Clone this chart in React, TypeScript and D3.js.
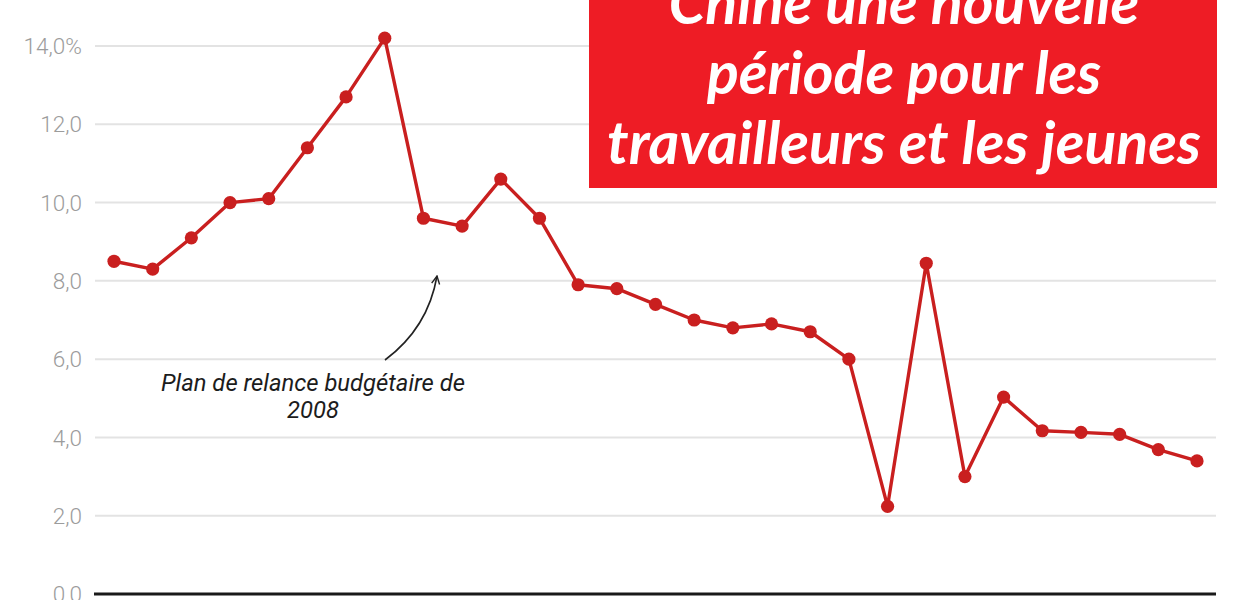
import * as d3 from "d3";

const YEARS = d3.range(2000, 2029);
const GROWTH = [
  8.5, 8.3, 9.1, 10.0, 10.1, 11.4, 12.7, 14.2, 9.6, 9.4, 10.6, 9.6, 7.9, 7.8,
  7.4, 7.0, 6.8, 6.9, 6.7, 6.0, 2.24, 8.45, 3.0, 5.03, 4.17, 4.13, 4.08, 3.69,
  3.4,
];
const Y_TICKS = [0, 2, 4, 6, 8, 10, 12, 14];
const TITLE_LINES = [
  "Chine une nouvelle",
  "période pour les",
  "travailleurs et les jeunes",
];
const NOTE_LINES = ["Plan de relance budgétaire de", "2008"];

const W = 1240;
const H = 600;
const RED = "#c91f1f";

export default function App() {
  const x = d3.scaleLinear().domain([2000, 2028]).range([114, 1197]);
  const y = d3.scaleLinear().domain([0, 14]).range([594, 46]);
  const points = YEARS.map((yr, i) => ({ yr, v: GROWTH[i] }));
  const line = d3
    .line<{ yr: number; v: number }>()
    .x((d) => x(d.yr))
    .y((d) => y(d.v));

  const fmt = (t: number) => t.toFixed(1).replace(".", ",");

  return (
    <div style={{ position: "fixed", left: 0, top: 0, width: W, height: H, background: "#fff" }}>
      <svg width={W} height={H} style={{ display: "block", fontFamily: "Roboto, sans-serif" }}>
        <defs>
          <marker
            id="arr"
            viewBox="0 0 10 10"
            refX="9"
            refY="5"
            markerWidth="10"
            markerHeight="10"
            orient="auto"
            markerUnits="userSpaceOnUse"
          >
            <path d="M1,1 L9,5 L1,9" fill="none" stroke="#222" strokeWidth={1.4} />
          </marker>
        </defs>

        {Y_TICKS.filter((t) => t > 0).map((t) => (
          <line key={t} x1={95} x2={1216} y1={y(t)} y2={y(t)} stroke="#e3e3e3" strokeWidth={2} />
        ))}
        {Y_TICKS.map((t) => (
          <text
            key={t}
            x={82}
            y={y(t)}
            dy="0.36em"
            textAnchor="end"
            fill="#9c9c9c"
            fontSize={22.5}
            fontWeight={300}
          >
            {fmt(t)}
            {t === 14 ? "%" : ""}
          </text>
        ))}
        <line x1={94} x2={1216} y1={y(0)} y2={y(0)} stroke="#1a1a1a" strokeWidth={3} />

        <path d={line(points) ?? ""} fill="none" stroke={RED} strokeWidth={3.4} strokeLinejoin="round" />
        {points.map((d) => (
          <circle key={d.yr} cx={x(d.yr)} cy={y(d.v)} r={6.6} fill={RED} />
        ))}

        <path
          d="M385,360 Q428,328 437,276"
          fill="none"
          stroke="#222"
          strokeWidth={1.6}
          markerEnd="url(#arr)"
        />
        {NOTE_LINES.map((s, i) => (
          <text
            key={s}
            x={313}
            y={391 + i * 27}
            textAnchor="middle"
            fontStyle="italic"
            fontSize={23.8}
            fill="#1c1c1c"
          >
            {s}
          </text>
        ))}

        <rect x={589} y={-2} width={628} height={190} fill="#ee1c25" />
        {TITLE_LINES.map((s, i) => (
          <text
            key={s}
            x={904}
            y={24 + i * 70}
            textAnchor="middle"
            fontFamily="Lato, sans-serif"
            fontStyle="italic"
            fontWeight={700}
            fontSize={59}
            fill="#fff"
          >
            {s}
          </text>
        ))}
      </svg>
    </div>
  );
}
